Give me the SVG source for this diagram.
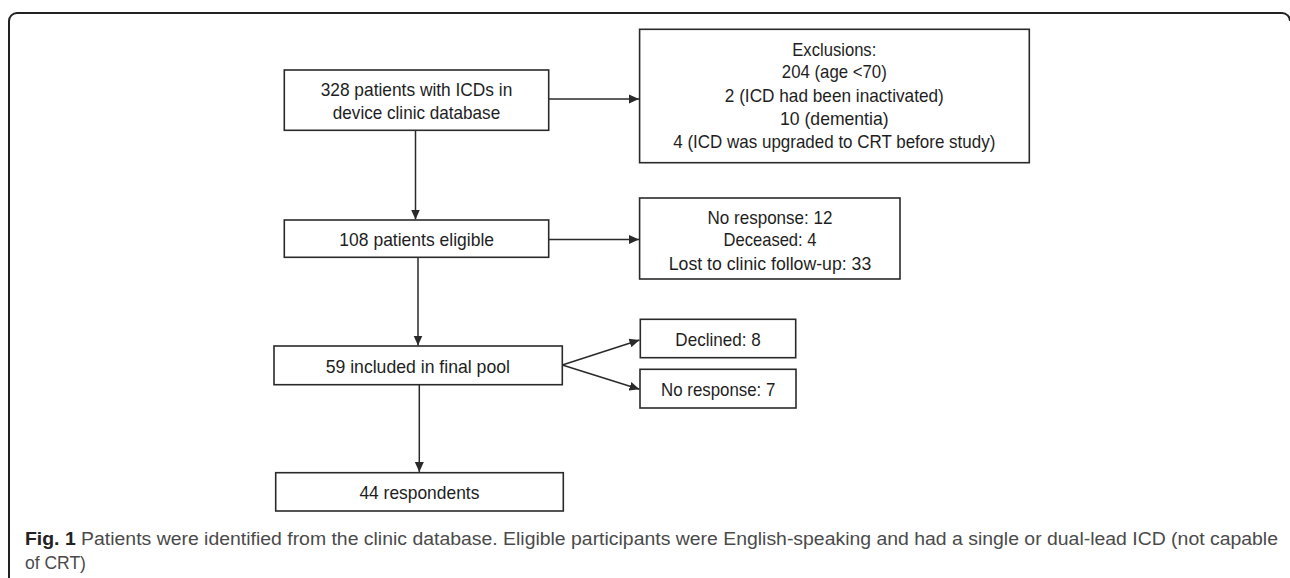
<svg xmlns="http://www.w3.org/2000/svg" width="1290" height="578" viewBox="0 0 1290 578">
<style>
.box{fill:#fff;stroke:#2a2a2a;stroke-width:1.6}
.t{font-family:"Liberation Sans",Arial,sans-serif;font-size:17.8px;fill:#1e1e1e;text-anchor:middle}
.c{stroke:#2a2a2a;stroke-width:1.5;fill:none;marker-end:url(#ah)}
.cap{font-family:"Liberation Sans",Arial,sans-serif;font-size:17.5px;fill:#4a4a4a}
</style>
<defs>
<marker id="ah" viewBox="0 0 10 10" refX="10" refY="5" markerWidth="10" markerHeight="10" markerUnits="userSpaceOnUse" orient="auto">
<path d="M0,0.5 L10,5 L0,9.5 Z" fill="#2a2a2a"/>
</marker>
</defs>
<rect width="1290" height="578" fill="#fff"/>
<path d="M9,578 V21 A8,8 0 0 1 17,13 H1282 A8,8 0 0 1 1290,21" fill="none" stroke="#222" stroke-width="2"/>
<g id="connectors">
<line class="c" x1="548.7" y1="99" x2="639" y2="99"/>
<line class="c" x1="415.5" y1="130.3" x2="415.5" y2="219.5"/>
<line class="c" x1="548.7" y1="239.5" x2="639" y2="239.5"/>
<line class="c" x1="418" y1="257.3" x2="418" y2="345.5"/>
<line class="c" x1="419.3" y1="384.7" x2="419.3" y2="472"/>
<line class="c" x1="562.3" y1="365" x2="639.5" y2="340"/>
<line class="c" x1="562.3" y1="365" x2="639.5" y2="389.3"/>
</g>
<g id="n328">
<rect class="box" x="284.3" y="70" width="264.4" height="60.3"/>
<text class="t" x="416.5" y="95.6" textLength="191.7" lengthAdjust="spacingAndGlyphs">328 patients with ICDs in</text>
<text class="t" x="416.5" y="119" textLength="167.3" lengthAdjust="spacingAndGlyphs">device clinic database</text>
</g>
<g id="nExcl">
<rect class="box" x="639.6" y="29.3" width="389.7" height="133.4"/>
<text class="t" x="834.3" y="55.6" textLength="84" lengthAdjust="spacingAndGlyphs">Exclusions:</text>
<text class="t" x="834.3" y="78.3" textLength="105" lengthAdjust="spacingAndGlyphs">204 (age &lt;70)</text>
<text class="t" x="834.3" y="101.6" textLength="219" lengthAdjust="spacingAndGlyphs">2 (ICD had been inactivated)</text>
<text class="t" x="834.3" y="124.6" textLength="108.5" lengthAdjust="spacingAndGlyphs">10 (dementia)</text>
<text class="t" x="834.3" y="148" textLength="322" lengthAdjust="spacingAndGlyphs">4 (ICD was upgraded to CRT before study)</text>
</g>
<g id="n108">
<rect class="box" x="284.3" y="220" width="264.4" height="37.3"/>
<text class="t" x="416.7" y="245.6" textLength="154.7" lengthAdjust="spacingAndGlyphs">108 patients eligible</text>
</g>
<g id="nNR12">
<rect class="box" x="639.6" y="198" width="260.4" height="81"/>
<text class="t" x="770" y="223.6" textLength="125" lengthAdjust="spacingAndGlyphs">No response: 12</text>
<text class="t" x="770" y="246.3" textLength="93" lengthAdjust="spacingAndGlyphs">Deceased: 4</text>
<text class="t" x="770" y="269.6" textLength="202.5" lengthAdjust="spacingAndGlyphs">Lost to clinic follow-up: 33</text>
</g>
<g id="n59">
<rect class="box" x="274" y="346" width="288.3" height="38.7"/>
<text class="t" x="417.8" y="372.6" textLength="184.3" lengthAdjust="spacingAndGlyphs">59 included in final pool</text>
</g>
<g id="nDeclined">
<rect class="box" x="640.3" y="319.3" width="155.4" height="38.4"/>
<text class="t" x="718" y="346.3" textLength="85.3" lengthAdjust="spacingAndGlyphs">Declined: 8</text>
</g>
<g id="nNR7">
<rect class="box" x="640" y="369.3" width="156" height="38.7"/>
<text class="t" x="718.2" y="395.6" textLength="114.3" lengthAdjust="spacingAndGlyphs">No response: 7</text>
</g>
<g id="n44">
<rect class="box" x="275.7" y="472.7" width="287.6" height="38.3"/>
<text class="t" x="419.4" y="499" textLength="120" lengthAdjust="spacingAndGlyphs">44 respondents</text>
</g>
<g id="caption">
<text class="cap" x="25" y="544.5" textLength="1253" lengthAdjust="spacingAndGlyphs"><tspan font-weight="bold" fill="#222">Fig. 1</tspan> Patients were identified from the clinic database. Eligible participants were English-speaking and had a single or dual-lead ICD (not capable</text>
<text class="cap" x="25" y="569">of CRT)</text>
</g>
</svg>
